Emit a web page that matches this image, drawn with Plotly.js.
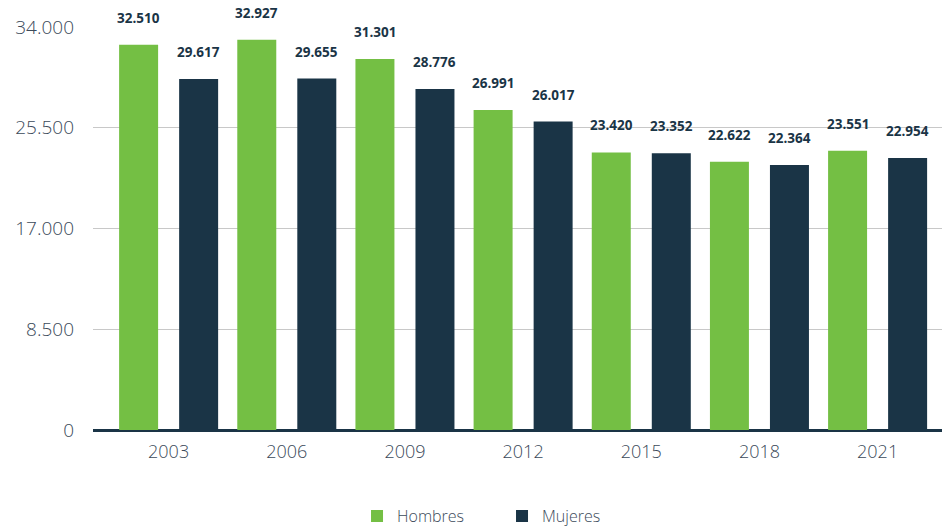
<!DOCTYPE html>
<html>
<head>
<meta charset="utf-8">
<script src="https://cdn.plot.ly/plotly-3.0.1.min.js"></script>
<style>html,body{margin:0;padding:0;background:#fff;}#chart{width:942px;height:530px;}</style>
</head>
<body>
<div id="chart"></div>
<script>
const years = ['2003', '2006', '2009', '2012', '2015', '2018', '2021'];
const hombres = [32510, 32927, 31301, 26991, 23420, 22622, 23551];
const mujeres = [29617, 29655, 28776, 26017, 23352, 22364, 22954];
const tickVals = [0, 8500, 17000, 25500, 34000];
const tickText = ['0', '8.500', '17.000', '25.500', '34.000'];

const green = '#74bf44';
const navy = '#1a3446';
const BW = 0.33;
const offH = -0.419, offM = 0.089;

function fmt(v) {
  return String(v).replace(/\B(?=(\d{3})+(?!\d))/g, '.');
}

const traces = [
  {type: 'bar', name: 'Hombres', x: years, y: hombres, marker: {color: green},
   width: BW, offset: offH, hoverinfo: 'skip'},
  {type: 'bar', name: 'Mujeres', x: years, y: mujeres, marker: {color: navy},
   width: BW, offset: offM, hoverinfo: 'skip'}
];

const annotations = [];
years.forEach((yr, i) => {
  annotations.push({x: i + offH + BW / 2, y: hombres[i], xref: 'x', yref: 'y',
    text: fmt(hombres[i]), showarrow: false, yanchor: 'bottom', yshift: 16,
    font: {family: 'Open Sans', size: 13.5, color: navy, weight: 700}});
  annotations.push({x: i + offM + BW / 2, y: mujeres[i], xref: 'x', yref: 'y',
    text: fmt(mujeres[i]), showarrow: false, yanchor: 'bottom', yshift: 16,
    font: {family: 'Open Sans', size: 13.5, color: navy, weight: 700}});
});

const layout = {
  width: 942, height: 530,
  margin: {l: 93, r: 0, t: 27, b: 100, autoexpand: false},
  paper_bgcolor: '#fff', plot_bgcolor: '#fff',
  font: {family: 'Open Sans', color: '#3b4a5a'},
  barmode: 'group',
  showlegend: true,
  legend: {orientation: 'h', xref: 'container', yref: 'container', x: 0.379, xanchor: 'left',
    y: 0.026, yanchor: 'middle', entrywidth: 100, entrywidthmode: 'pixels',
    font: {size: 16, color: '#3b4a5a', weight: 300}, itemwidth: 30, traceorder: 'normal'},
  xaxis: {type: 'category', range: [-0.64, 6.545], showgrid: false, zeroline: false,
    showline: false, ticks: '', ticklabelstandoff: 9,
    tickfont: {size: 18, color: '#3b4a5a', weight: 300}, fixedrange: true},
  yaxis: {range: [0, 34000], tickvals: tickVals, ticktext: tickText, showgrid: true,
    gridcolor: '#c8c8c8', gridwidth: 1, zeroline: true, zerolinecolor: navy, zerolinewidth: 3,
    showline: false, ticks: '', ticklabelstandoff: 18,
    tickfont: {size: 19, color: '#3b4a5a', weight: 300}, fixedrange: true},
  annotations: annotations
};

Plotly.newPlot('chart', traces, layout, {displayModeBar: false, staticPlot: true});
</script>
</body>
</html>
